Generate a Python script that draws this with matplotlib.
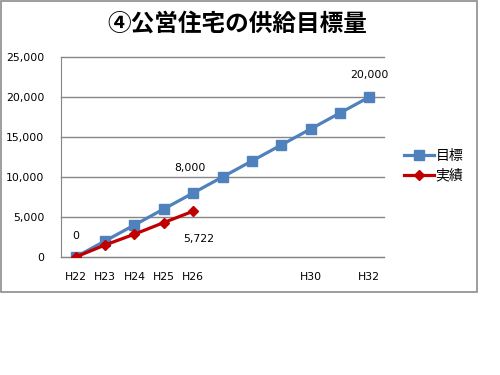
"""Recreate the 公営住宅の供給目標量 line chart."""

import matplotlib

matplotlib.use("Agg")
import matplotlib.pyplot as plt  # noqa:E402
from matplotlib.patches import Rectangle  # noqa:E402

plt.rcParams["font.family"] = ["DejaVu Sans", "Noto Sans CJK JP"]

years = ["H22", "H23", "H24", "H25", "H26", "H27", "H28", "H29", "H30", "H31", "H32"]
shown_labels = ["H22", "H23", "H24", "H25", "H26", "", "", "", "H30", "", "H32"]
target = [0, 2000, 4000, 6000, 8000, 10000, 12000, 14000, 16000, 18000, 20000]
actual = [0, 1500, 2850, 4300, 5722]
yticks = [0, 5000, 10000, 15000, 20000, 25000]

BLUE = "#4F81BD"
RED = "#C00000"
GRID = "#868686"

fig = plt.figure(figsize=(5, 3.75), dpi=100)
W, H = 500, 375

# outer chart frame
fig.patches.append(Rectangle((0.5 / W, 1 - 292 / H), 476.5 / W, 291.5 / H,
                             transform=fig.transFigure, fill=False,
                             edgecolor="#8c8c8c", linewidth=1.2))

ax = fig.add_axes([61 / W, 1 - 257 / H, 323 / W, 200 / H])
x = list(range(len(years)))

ax.plot(x, target, color=BLUE, linewidth=2.3, marker="s", markersize=7,
        label="目標", zorder=3)
ax.plot(x[:len(actual)], actual, color=RED, linewidth=2.3, marker="D",
        markersize=5, label="実績", zorder=4)

ax.set_xlim(-0.5, len(years) - 0.5)
ax.set_ylim(0, 25000)
ax.set_yticks(yticks)
ax.set_yticklabels([f"{v:,}" for v in yticks], fontsize=7.8)
ax.set_xticks(x)
ax.set_xticklabels(shown_labels, fontsize=7.8)
ax.tick_params(length=0)
ax.tick_params(axis="x", pad=11)
ax.tick_params(axis="y", pad=12)
ax.yaxis.grid(True, color=GRID, linewidth=1, clip_on=False)
ax.set_axisbelow(True)
for side in ["top", "right"]:
    ax.spines[side].set_visible(False)
ax.spines["left"].set_color(GRID)
ax.spines["bottom"].set_color(GRID)

# data labels
ax.annotate("0", (0, target[0]), xytext=(0, 13), textcoords="offset points",
            ha="center", fontsize=7.8)
ax.annotate("8,000", (4, target[4]), xytext=(-2, 16), textcoords="offset points",
            ha="center", fontsize=7.8)
ax.annotate("5,722", (4, actual[4]), xytext=(4, -22), textcoords="offset points",
            ha="center", fontsize=7.8)
ax.annotate("20,000", (10, target[10]), xytext=(0, 14), textcoords="offset points",
            ha="center", fontsize=7.8)

fig.text(237 / W, 1 - 24 / H, "④公営住宅の供給目標量", ha="center", va="center",
         fontsize=17, fontweight="bold", family=["Noto Sans CJK JP", "DejaVu Sans"])

leg = fig.legend(loc="center left", bbox_to_anchor=(391 / W, 1 - 166 / H),
                 frameon=False, handlelength=2.2, handletextpad=0.1,
                 labelspacing=0.4, prop={"family": ["Noto Sans CJK JP"], "size": 10})

fig.savefig("out.png", dpi=100)
